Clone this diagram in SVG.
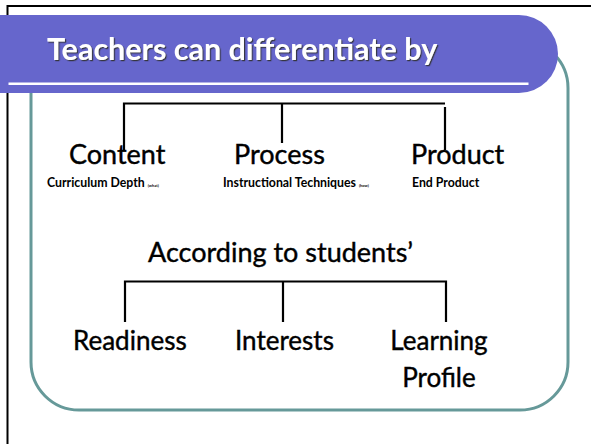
<svg xmlns="http://www.w3.org/2000/svg" width="591" height="444" viewBox="0 0 591 444">
<style>
.lbl{font-family:Lato,"Open Sans",sans-serif;font-size:27px;fill:#000;stroke:#000;stroke-width:0.4;}
.lbl2{font-family:Lato,"Open Sans",sans-serif;font-size:26px;fill:#000;stroke:#000;stroke-width:0.4;}
.sub{font-family:Lato,"Open Sans",sans-serif;font-size:12.3px;font-weight:bold;fill:#000;}
.tiny{font-family:Lato,"Open Sans",sans-serif;font-size:4px;fill:#000;}
.title{font-family:Lato,"Open Sans",sans-serif;font-size:30.5px;font-weight:bold;fill:#fff;}
.ln{stroke:#000;stroke-width:2.2;fill:none;}
</style>
<defs>
<filter id="sh" x="-5%" y="-20%" width="110%" height="150%">
<feDropShadow dx="1.2" dy="1.2" stdDeviation="0.6" flood-color="#333" flood-opacity="0.9"/>
</filter>
</defs>
<rect x="0" y="0" width="591" height="444" fill="#fff"/>
<rect x="7.5" y="6" width="640" height="500" fill="none" stroke="#000" stroke-width="2"/>
<rect id="frame" x="31" y="40" width="537" height="370" rx="48" ry="48" fill="none" stroke="#669999" stroke-width="3"/>
<g id="header">
<rect x="-60" y="15" width="618" height="78" rx="39" ry="39" fill="#6666CC"/>
<rect x="8.5" y="82.5" width="520" height="2.5" fill="#fff"/>
<text class="title" x="47" y="60" filter="url(#sh)">Teachers can differentiate by</text>
</g>
<g id="connectors">
<path class="ln" d="M124,150 V103.5 H445 M282,103.5 V143 M445,107 V150"/>
<path class="ln" d="M125,322 V281.5 H446 V322 M283,281.5 V322"/>
</g>
<g id="content">
<text class="lbl" x="69" y="164">Content</text>
<text class="sub" x="47" y="187">Curriculum Depth <tspan class="tiny">(what)</tspan></text>
</g>
<g id="process">
<text class="lbl" x="234" y="164">Process</text>
<text class="sub" x="223" y="187">Instructional Techniques <tspan class="tiny">(how)</tspan></text>
</g>
<g id="product">
<text class="lbl" x="411" y="164">Product</text>
<text class="sub" x="412" y="187">End Product</text>
</g>
<g id="according">
<text class="lbl" x="148" y="262">According to students’</text>
</g>
<g id="readiness">
<text class="lbl2" x="73" y="350">Readiness</text>
</g>
<g id="interests">
<text class="lbl2" x="235" y="350">Interests</text>
</g>
<g id="learning">
<text class="lbl2" x="439" y="350" text-anchor="middle">Learning</text>
<text class="lbl2" x="439" y="387" text-anchor="middle">Profile</text>
</g>
</svg>
